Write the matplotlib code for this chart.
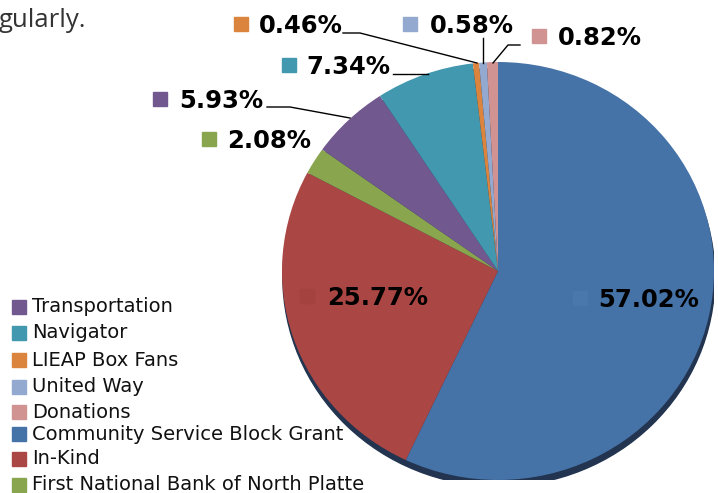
import matplotlib
matplotlib.use("Agg")
import matplotlib.pyplot as plt
from matplotlib.patches import Ellipse, Rectangle

# ---- data (legend order) ----
categories = ["Transportation", "Navigator", "LIEAP Box Fans", "United Way",
              "Donations", "Community Service Block Grant", "In-Kind",
              "First National Bank of North Platte"]
values = [5.93, 7.34, 0.46, 0.58, 0.82, 57.02, 25.77, 2.08]
colors = ["#71588F", "#4198AF", "#DB843D", "#93A9CF",
          "#D19392", "#4572A7", "#AA4643", "#89A54E"]
# pie is drawn clockwise from 12 o'clock starting at Community Service Block Grant
pie_order = [5, 6, 7, 0, 1, 2, 3, 4]

W, H = 718, 493
fig = plt.figure(figsize=(W / 100, H / 100), dpi=100)

# pie axes (slightly elliptical, like the reference)
px0, px1, py0, py1 = 282, 714, 62, 480
pax = fig.add_axes([px0 / W, (H - py1) / H, (px1 - px0) / W, (py1 - py0) / H])
pax.add_patch(Ellipse((0.004, -0.03), 2.0, 2.0, color="#22344f", zorder=0))
pvals = [values[i] for i in pie_order]
pcols = [colors[i] for i in pie_order]
pax.pie(pvals, colors=pcols, startangle=90, counterclock=False,
        wedgeprops=dict(linewidth=0), radius=1.0)
pax.set_xlim(-1.0, 1.0)
pax.set_ylim(-1.0, 1.0)
pax.set_aspect("auto")
pax.axis("off")

# overlay axes in pixel coordinates
ax = fig.add_axes([0, 0, 1, 1], zorder=5)
ax.set_xlim(0, W)
ax.set_ylim(H, 0)
ax.axis("off")
ax.patch.set_alpha(0)

# cut-off paragraph text
ax.text(-1, 27, "gularly.", fontsize=18.5, family="Open Sans", color="#333333",
        ha="left", va="baseline")

# data labels: (index, marker left x, text left x, baseline y)
label_pos = {
    2: (234, 259, 33),
    3: (403, 430, 33),
    4: (532, 558, 45),
    1: (282, 306, 74),
    0: (153, 179, 108),
    7: (202, 227, 148),
    6: (300, 327, 305),
    5: (573, 598, 307),
}
inner_marker = {5: "#4a78ad", 6: "#a44240"}
for i, (mx, tx, by) in label_pos.items():
    mc = inner_marker.get(i, colors[i])
    ax.add_patch(Rectangle((mx, by - 16), 14, 14, color=mc, zorder=3))
    ax.text(tx, by, f"{values[i]:.2f}%", fontsize=17.5, fontweight="bold",
            family="DejaVu Sans", color="black", ha="left", va="baseline",
            zorder=4)

# leader lines
lw = 1.0
ax.plot([343, 360, 477], [33, 33, 63], color="black", lw=lw)   # 0.46%
ax.plot([483, 483], [38, 63], color="black", lw=lw)            # 0.58%
ax.plot([520, 508, 493], [45, 45, 63], color="black", lw=lw)   # 0.82%
ax.plot([393, 428], [74, 74], color="black", lw=lw)            # 7.34%
ax.plot([267, 290, 350], [107, 107, 118], color="black", lw=lw)  # 5.93%

# legend
leg_y = [307, 333, 360, 387, 412, 434, 459, 485]
for i, y in enumerate(leg_y):
    ax.add_patch(Rectangle((12, y - 7), 14, 14, color=colors[i]))
    ax.text(32, y, categories[i], fontsize=14, family="DejaVu Sans",
            color="#111111", ha="left", va="center")

fig.savefig("out.png", dpi=100)
